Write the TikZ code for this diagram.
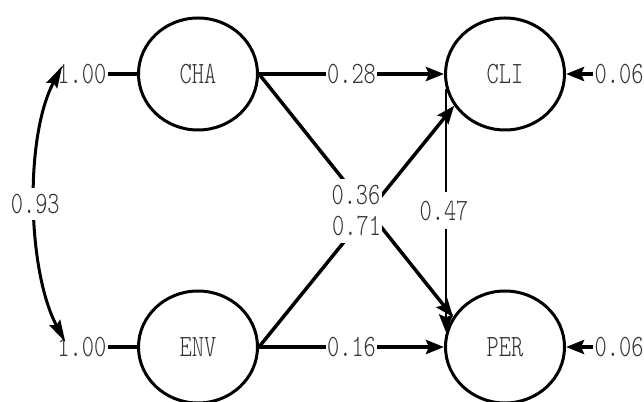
\documentclass[tikz,border=0pt]{standalone}
\usepackage{fontspec}
\newfontfamily\lisfont[FakeStretch=0.75]{lmmonolt10-regular.otf}
\usetikzlibrary{arrows.meta,positioning,shapes.geometric}

\begin{document}
\begin{tikzpicture}[
    x=1pt, y=1pt,
    latent/.style={draw, ellipse, line width=3pt, inner sep=0pt,
                   minimum width=119pt, minimum height=112pt,
                   font=\lisfont\fontsize{31}{31}\selectfont, text=black!80},
    coef/.style={font=\lisfont\fontsize{31}{31}\selectfont, text=black!80,
                 inner xsep=1.5pt, inner ysep=1pt},
    gap/.style={coef, fill=white},
    link/.style={line width=4pt},
    arrow/.style={link, -{Stealth[length=18pt,width=14pt,inset=3pt]}},
    bidir/.style={line width=3pt,
                  {Stealth[length=22pt,width=12pt,inset=3pt]}-{Stealth[length=22pt,width=12pt,inset=3pt]}},
  ]
  \useasboundingbox (0,0) rectangle (644,401);

  % latent variables
  \node[latent] (CHA) at (198,327) {CHA};
  \node[latent] (CLI) at (505,327) {CLI};
  \node[latent] (ENV) at (198,54) {ENV};
  \node[latent] (PER) at (505,54) {PER};

  % variances of the exogenous ones
  \node[coef, left=29pt of CHA] (vCHA) {1.00};
  \node[coef, left=29pt of ENV] (vENV) {1.00};
  \draw[link] (vCHA) -- (CHA);
  \draw[link] (vENV) -- (ENV);

  % covariance
  \draw[bidir] ([shift={(6.5,8)}]vCHA.west) .. controls +(-38,-71) and +(-38,71) ..
      ([shift={(9.5,5)}]vENV.west) node[gap, inner ysep=6pt, pos=0.5] (c93) {0.93};

  % error terms
  \node[coef, right=27pt of CLI] (eCLI) {0.06};
  \node[coef, right=27pt of PER] (ePER) {0.06};
  \draw[arrow] (eCLI) -- (CLI);
  \draw[arrow] (ePER) -- (PER);

  % direct paths
  \draw[arrow] (CHA) -- node[gap] (b28) {0.28} (CLI);
  \draw[arrow] (ENV) -- node[gap] (b16) {0.16} (PER);
  \draw[arrow, line width=3.5pt] (CHA.east) -- coordinate[pos=0.5] (m36) (PER.150);
  \draw[arrow, line width=3.5pt] (ENV.east) -- coordinate[pos=0.5] (m71) (CLI.212);
  \draw[arrow, line width=2.5pt] (CLI.194) -- node[gap, inner ysep=9pt, xshift=-2pt] (b47) {0.47} (PER.166);

  % crossing labels on top of both lines
  \node[gap, inner ysep=7pt] (b36) at (m36) {0.36};
  \node[gap, inner ysep=7pt] (b71) at (m71) {0.71};
\end{tikzpicture}
\end{document}
